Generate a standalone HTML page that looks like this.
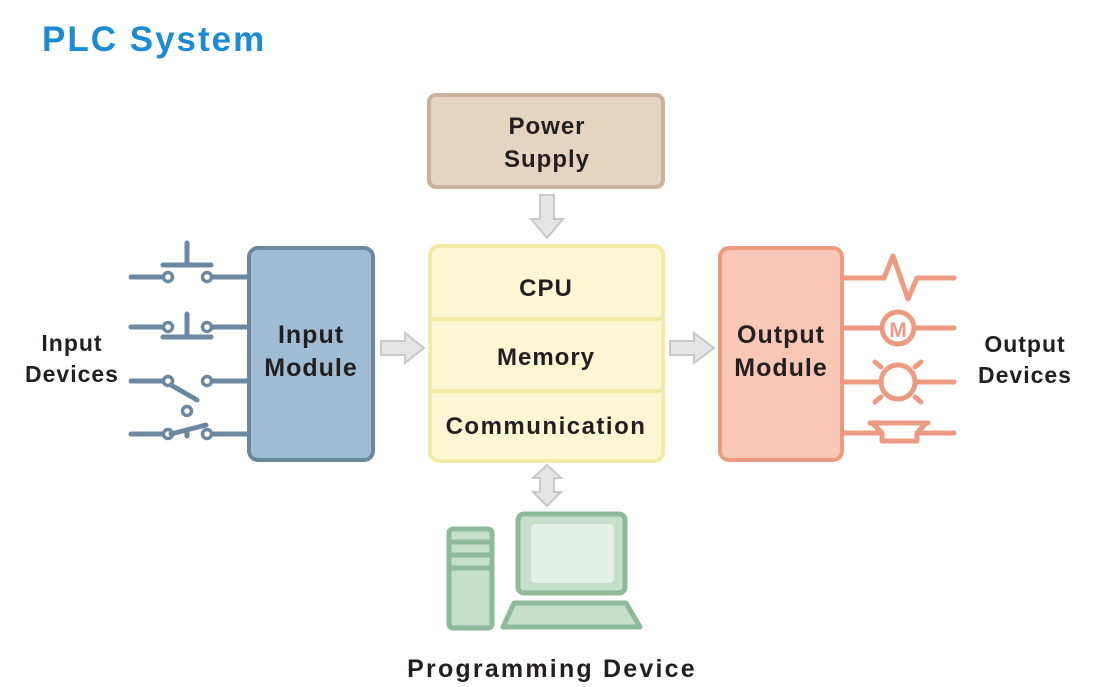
<!DOCTYPE html>
<html><head><meta charset="utf-8"><style>
html,body{margin:0;padding:0;background:#fff;}
svg{display:block}
text{font-family:"Liberation Sans",sans-serif;font-weight:bold;fill:#231f20;text-anchor:middle;letter-spacing:1px}
</style></head><body>
<svg width="1097" height="687" viewBox="0 0 1097 687" xmlns="http://www.w3.org/2000/svg">
<text x="42" y="51" style="text-anchor:start;fill:#1b8bd3;font-size:35px;letter-spacing:2px">PLC System</text>

<rect x="429" y="95" width="234" height="92" rx="7" fill="#e5d4c0" stroke="#c9b29b" stroke-width="4"/>
<text x="547" y="134" font-size="24">Power</text>
<text x="547" y="167" font-size="24">Supply</text>
<path d="M540 195 H554 V219 H563 L547 238 L531 219 H540 Z" fill="#e5e5e5" stroke="#c8c8c8" stroke-width="2"/>

<rect x="430" y="246" width="233" height="215" rx="9" fill="#fbf6d4" stroke="#f2eba5" stroke-width="4"/>
<line x1="430" y1="319" x2="663" y2="319" stroke="#f2eba5" stroke-width="4"/>
<line x1="430" y1="391" x2="663" y2="391" stroke="#f2eba5" stroke-width="4"/>
<text x="546" y="296" font-size="24">CPU</text>
<text x="546" y="365" font-size="24">Memory</text>
<text x="546" y="434" font-size="24" style="letter-spacing:1.5px">Communication</text>

<rect x="249" y="248" width="124" height="212" rx="9" fill="#a1bdd6" stroke="#6b88a0" stroke-width="4"/>
<text x="311" y="343" font-size="25">Input</text>
<text x="311" y="376" font-size="25">Module</text>

<rect x="720" y="248" width="122" height="212" rx="9" fill="#f8c7b5" stroke="#ec9a80" stroke-width="4"/>
<text x="781" y="343" font-size="25">Output</text>
<text x="781" y="376" font-size="25">Module</text>

<path d="M381 341 H405 V333 L424 348 L405 363 V355 H381 Z" fill="#e5e5e5" stroke="#c8c8c8" stroke-width="2"/>
<path d="M670 341 H694 V333 L714 348 L694 363 V355 H670 Z" fill="#e5e5e5" stroke="#c8c8c8" stroke-width="2"/>

<g stroke="#6b88a0" stroke-width="5" fill="none" stroke-linecap="round">
  <line x1="131" y1="277" x2="163" y2="277"/><line x1="212" y1="277" x2="248" y2="277"/>
  <circle cx="168" cy="277" r="4.5" fill="#fff" stroke-width="3.5"/><circle cx="207" cy="277" r="4.5" fill="#fff" stroke-width="3.5"/>
  <line x1="163" y1="265" x2="211" y2="265"/><line x1="187" y1="243" x2="187" y2="265"/>

  <line x1="131" y1="327" x2="163" y2="327"/><line x1="212" y1="327" x2="248" y2="327"/>
  <circle cx="168" cy="327" r="4.5" fill="#fff" stroke-width="3.5"/><circle cx="207" cy="327" r="4.5" fill="#fff" stroke-width="3.5"/>
  <line x1="163" y1="337" x2="211" y2="337"/><line x1="187" y1="314" x2="187" y2="337"/>

  <line x1="131" y1="381" x2="163" y2="381"/><line x1="212" y1="381" x2="248" y2="381"/>
  <circle cx="168" cy="381" r="4.5" fill="#fff" stroke-width="3.5"/><circle cx="207" cy="381" r="4.5" fill="#fff" stroke-width="3.5"/>
  <line x1="171" y1="385" x2="197" y2="400"/><circle cx="187" cy="411" r="4.5" fill="#fff" stroke-width="3.5"/>

  <line x1="131" y1="434" x2="163" y2="434"/><line x1="212" y1="434" x2="248" y2="434"/>
  <circle cx="168" cy="434" r="4.5" fill="#fff" stroke-width="3.5"/><circle cx="207" cy="434" r="4.5" fill="#fff" stroke-width="3.5"/>
  <line x1="171" y1="434" x2="206" y2="425"/><line x1="187" y1="430" x2="187" y2="436"/>
</g>
<text x="72" y="351" font-size="23">Input</text>
<text x="72" y="382" font-size="23">Devices</text>

<g stroke="#ec9a80" stroke-width="5" fill="none" stroke-linecap="round" stroke-linejoin="round">
  <polyline points="843,278 884,278 893,256 908,299 917,278 954,278"/>
  <line x1="843" y1="328" x2="881" y2="328"/><line x1="915" y1="328" x2="954" y2="328"/>
  <circle cx="898" cy="328" r="16"/>
  <line x1="843" y1="382" x2="880" y2="382"/><line x1="916" y1="382" x2="954" y2="382"/>
  <circle cx="898" cy="382" r="17"/>
  <line x1="875" y1="362" x2="881" y2="367"/><line x1="921" y1="362" x2="915" y2="367"/>
  <line x1="875" y1="402" x2="881" y2="397"/><line x1="921" y1="402" x2="915" y2="397"/>
  <line x1="843" y1="433" x2="880" y2="433"/><line x1="917" y1="433" x2="954" y2="433"/>
  <line x1="870" y1="423" x2="928" y2="423"/>
  <path d="M872 423 L882 433 V441 H917 V433 L926 423"/>
</g>
<text x="898" y="337" font-size="21" style="fill:#ec9a80;letter-spacing:0">M</text>
<text x="1025" y="352" font-size="23">Output</text>
<text x="1025" y="383" font-size="23">Devices</text>

<path d="M547 465 L561 478 H554 V492 H561 L547 506 L533 492 H540 V478 H533 Z" fill="#e5e5e5" stroke="#c8c8c8" stroke-width="2"/>

<g stroke="#8fb99b" stroke-width="5" stroke-linejoin="round">
  <rect x="449" y="529" width="43" height="99" rx="4" fill="#c6dfcc"/>
  <line x1="449" y1="542" x2="492" y2="542"/><line x1="449" y1="555" x2="492" y2="555"/><line x1="449" y1="568" x2="492" y2="568"/>
  <rect x="518" y="514" width="107" height="79" rx="6" fill="#c6dfcc"/>
  <path d="M514 603 H626 L640 627 H503 Z" fill="#c6dfcc"/>
</g>
<rect x="531" y="524" width="83" height="59" rx="4" fill="#e3f0e6"/>
<text x="552" y="677" font-size="25" style="letter-spacing:2.2px">Programming Device</text>
</svg>
</body></html>
